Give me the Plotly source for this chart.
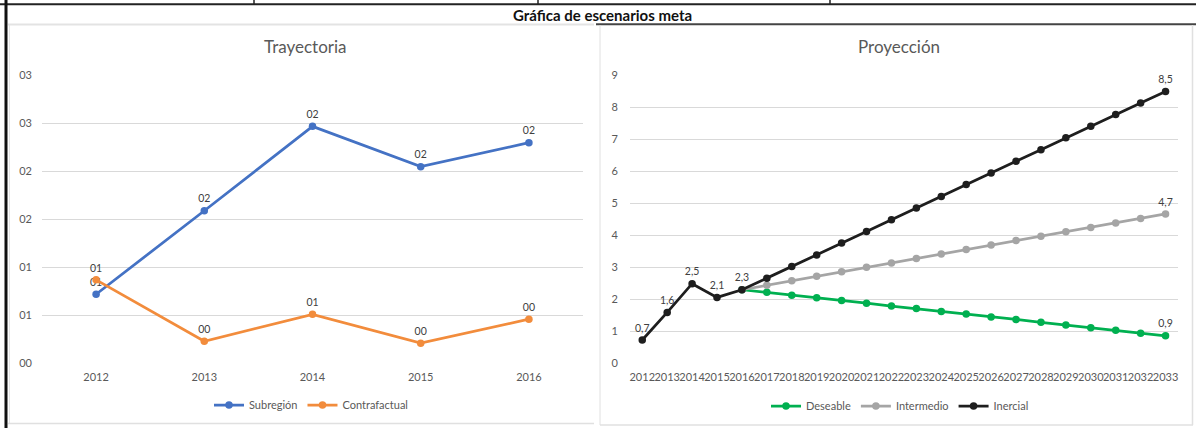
import plotly.graph_objects as go

# ---------------- data ----------------
hist_years = ["2012", "2013", "2014", "2015", "2016"]
subregion = [0.72, 1.59, 2.47, 2.05, 2.30]
contrafactual = [0.87, 0.23, 0.51, 0.21, 0.46]

proj_years = ["2012", "2013", "2014", "2015", "2016", "2017", "2018", "2019",
              "2020", "2021", "2022", "2023", "2024", "2025", "2026", "2027",
              "2028", "2029", "2030", "2031", "2032", "2033"]
scen_years = proj_years[4:]
inercial = [0.73, 1.59, 2.49, 2.06, 2.30, 2.66, 3.03, 3.39, 3.76, 4.12, 4.49,
            4.86, 5.22, 5.59, 5.95, 6.32, 6.68, 7.05, 7.41, 7.78, 8.14, 8.50]
deseable = [2.30, 2.22, 2.13, 2.05, 1.96, 1.88, 1.79, 1.71, 1.62, 1.54, 1.45,
            1.37, 1.28, 1.20, 1.11, 1.03, 0.94, 0.86]
intermedio = [2.30, 2.44, 2.58, 2.72, 2.86, 3.00, 3.14, 3.28, 3.42, 3.56, 3.70,
              3.84, 3.97, 4.11, 4.25, 4.39, 4.53, 4.67]

left_ticks = [0, 0.5, 1, 1.5, 2, 2.5, 3]
right_ticks = [0, 1, 2, 3, 4, 5, 6, 7, 8, 9]

# ---------------- helpers ----------------
W, H = 1196, 428
FONT = "Lato"
TXT = "#595959"
LBL = "#404040"
GRID = "#D9D9D9"


def px(x):
    return x / W


def py(y):
    return 1 - y / H


def fmt00(v):
    return "%02d" % int(v + 0.5)


def fmt_es(v):
    return ("%.1f" % v).replace(".", ",")


BLUE = "#4472C4"
ORANGE = "#F28C3C"
GREEN = "#00B050"
GRAY = "#A5A5A5"
BLACK = "#1E1E1E"
LW = 2.75
MS = 7.5
LBL_SIZE = 10.5

fig = go.Figure()

# left chart
fig.add_trace(go.Scatter(
    x=hist_years, y=subregion, name="Subregión", mode="lines+markers+text",
    line=dict(color=BLUE, width=LW), marker=dict(color=BLUE, size=MS),
    text=[fmt00(v) for v in subregion], textposition="top center",
    textfont=dict(family=FONT, size=LBL_SIZE, color=LBL),
    xaxis="x", yaxis="y", legend="legend", cliponaxis=False))
fig.add_trace(go.Scatter(
    x=hist_years, y=contrafactual, name="Contrafactual", mode="lines+markers+text",
    line=dict(color=ORANGE, width=LW), marker=dict(color=ORANGE, size=MS),
    text=[fmt00(v) for v in contrafactual], textposition="top center",
    textfont=dict(family=FONT, size=LBL_SIZE, color=LBL),
    xaxis="x", yaxis="y", legend="legend", cliponaxis=False))

# right chart
n = len(inercial)
fig.add_trace(go.Scatter(
    x=scen_years, y=deseable, name="Deseable", mode="lines+markers+text",
    line=dict(color=GREEN, width=LW), marker=dict(color=GREEN, size=MS),
    text=[fmt_es(v) if i == len(deseable) - 1 else "" for i, v in enumerate(deseable)],
    textposition="top center", textfont=dict(family=FONT, size=LBL_SIZE, color=LBL),
    xaxis="x2", yaxis="y2", legend="legend2", cliponaxis=False))
fig.add_trace(go.Scatter(
    x=scen_years, y=intermedio, name="Intermedio", mode="lines+markers+text",
    line=dict(color=GRAY, width=LW), marker=dict(color=GRAY, size=MS),
    text=[fmt_es(v) if i == len(intermedio) - 1 else "" for i, v in enumerate(intermedio)],
    textposition="top center", textfont=dict(family=FONT, size=LBL_SIZE, color=LBL),
    xaxis="x2", yaxis="y2", legend="legend2", cliponaxis=False))
fig.add_trace(go.Scatter(
    x=proj_years, y=inercial, name="Inercial", mode="lines+markers+text",
    line=dict(color=BLACK, width=LW), marker=dict(color=BLACK, size=MS),
    text=[fmt_es(v) if (i < 5 or i == n - 1) else "" for i, v in enumerate(inercial)],
    textposition="top center", textfont=dict(family=FONT, size=LBL_SIZE, color=LBL),
    xaxis="x2", yaxis="y2", legend="legend2", cliponaxis=False))

y_dom = [py(363.3), py(75.5)]

axis_common = dict(showline=False, zeroline=False, ticks="", automargin=False,
                   tickfont=dict(family=FONT, size=11, color=TXT), fixedrange=True)

fig.update_layout(
    width=W, height=H, margin=dict(l=0, r=0, t=0, b=0, pad=0, autoexpand=False),
    paper_bgcolor="white", plot_bgcolor="white",
    font=dict(family=FONT, color=TXT),
    xaxis=dict(domain=[px(42), px(583)], type="category", range=[-0.5, 4.5],
               categoryorder="array", categoryarray=hist_years,
               showgrid=False, tickangle=0, ticklabelstandoff=6, anchor="y",
               **axis_common),
    yaxis=dict(domain=y_dom, range=[0, 3], tickmode="array", tickvals=left_ticks,
               ticktext=[fmt00(t) for t in left_ticks], showgrid=True,
               gridcolor=GRID, gridwidth=1, ticklabelstandoff=9, anchor="x",
               **axis_common),
    xaxis2=dict(domain=[px(629.8), px(1178)], type="category", range=[-0.5, 21.5],
                categoryorder="array", categoryarray=proj_years,
                tickmode="array", tickvals=proj_years, ticktext=proj_years,
                showgrid=False, tickangle=0, ticklabelstandoff=6, anchor="y2",
                **axis_common),
    yaxis2=dict(domain=y_dom, range=[0, 9], tickmode="array", tickvals=right_ticks,
                showgrid=True, gridcolor=GRID, gridwidth=1, ticklabelstandoff=11,
                anchor="x2", **axis_common),
    legend=dict(orientation="h", x=px(311), xanchor="center", y=py(405), yanchor="middle",
                font=dict(family=FONT, size=11, color=TXT), itemwidth=30,
                bgcolor="rgba(0,0,0,0)"),
    legend2=dict(orientation="h", x=px(900), xanchor="center", y=py(406), yanchor="middle",
                 font=dict(family=FONT, size=11, color=TXT), itemwidth=30,
                 bgcolor="rgba(0,0,0,0)"),
    showlegend=True,
)

# titles
fig.add_annotation(text="<b>Gráfica de escenarios meta</b>", x=px(602), y=py(15),
                   xref="paper", yref="paper", showarrow=False,
                   xanchor="center", yanchor="middle",
                   font=dict(family=FONT, size=15, color="#111111"))
fig.add_annotation(text="Trayectoria", x=px(305), y=py(47), xref="paper", yref="paper",
                   showarrow=False, xanchor="center", yanchor="middle",
                   font=dict(family=FONT, size=17, color=TXT))
fig.add_annotation(text="Proyección", x=px(899), y=py(47), xref="paper", yref="paper",
                   showarrow=False, xanchor="center", yanchor="middle",
                   font=dict(family=FONT, size=17, color=TXT))

# frame / table borders
shapes = []


def hline(x0, x1, y, color, w):
    shapes.append(dict(type="line", xref="paper", yref="paper", x0=px(x0), x1=px(x1),
                       y0=py(y), y1=py(y), line=dict(color=color, width=w)))


def vline(x, y0, y1, color, w):
    shapes.append(dict(type="line", xref="paper", yref="paper", x0=px(x), x1=px(x),
                       y0=py(y0), y1=py(y1), line=dict(color=color, width=w)))


hline(0, W, 4.2, "#222222", 2)
for xv in [254, 538, 830]:
    vline(xv, 0, 4, "#222222", 1.5)
vline(6, 0, H, "#111111", 3)
# left panel
hline(8, 594, 24.5, "#E3E3E3", 2)
vline(9.5, 25, 423, "#E6E6E6", 1)
hline(8, 594, 423.5, "#E0E0E0", 1.5)
# right panel
hline(596, W, 24.3, "#444444", 2)
vline(600, 25, 425, "#E0E0E0", 1)
vline(1192.5, 25, 425, "#E0E0E0", 1.5)
hline(600, 1193, 425, "#E0E0E0", 1.5)

fig.update_layout(shapes=shapes)

fig.write_html(
    "out.html",
    config={"displayModeBar": False},
    post_script="document.body.style.margin='0';document.body.style.overflow='hidden';",
)
